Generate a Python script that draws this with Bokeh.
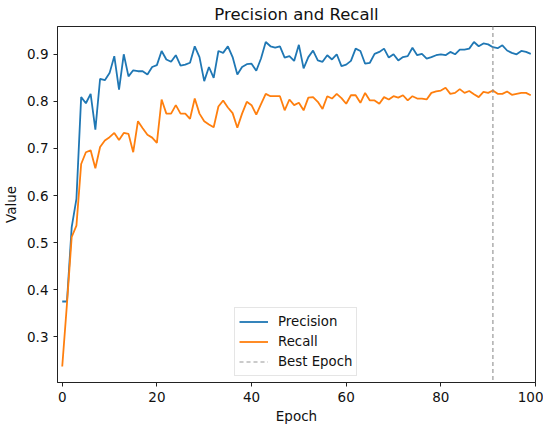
from bokeh.plotting import figure
from bokeh.models import Range1d, Legend, LegendItem, FixedTicker, ColumnDataSource
from bokeh.embed import file_html
from bokeh.resources import INLINE

epochs = list(range(100))
precision = [
    0.375, 0.375, 0.533, 0.593, 0.809, 0.796, 0.816, 0.740, 0.848, 0.845,
    0.860, 0.896, 0.825, 0.900, 0.853, 0.866, 0.864, 0.864, 0.857, 0.873,
    0.877, 0.907, 0.889, 0.884, 0.898, 0.876, 0.878, 0.882, 0.917, 0.894,
    0.843, 0.873, 0.850, 0.907, 0.903, 0.917, 0.894, 0.857, 0.873, 0.879,
    0.880, 0.865, 0.891, 0.926, 0.917, 0.914, 0.917, 0.893, 0.896, 0.886,
    0.920, 0.870, 0.894, 0.908, 0.887, 0.884, 0.898, 0.889, 0.900, 0.875,
    0.878, 0.886, 0.912, 0.907, 0.880, 0.882, 0.901, 0.905, 0.912, 0.893,
    0.900, 0.887, 0.894, 0.896, 0.914, 0.898, 0.901, 0.891, 0.894, 0.898,
    0.900, 0.898, 0.905, 0.900, 0.910, 0.910, 0.912, 0.926, 0.917, 0.923,
    0.921, 0.915, 0.913, 0.919, 0.908, 0.903, 0.900, 0.907, 0.905, 0.901,
]
recall = [
    0.237, 0.370, 0.512, 0.536, 0.667, 0.692, 0.696, 0.658, 0.703, 0.717,
    0.724, 0.733, 0.718, 0.733, 0.731, 0.692, 0.758, 0.743, 0.729, 0.723,
    0.712, 0.804, 0.774, 0.774, 0.792, 0.774, 0.774, 0.763, 0.806, 0.774,
    0.758, 0.751, 0.745, 0.789, 0.802, 0.787, 0.775, 0.744, 0.774, 0.799,
    0.792, 0.772, 0.794, 0.816, 0.811, 0.811, 0.811, 0.781, 0.804, 0.792,
    0.797, 0.781, 0.808, 0.809, 0.799, 0.784, 0.811, 0.806, 0.816, 0.807,
    0.795, 0.813, 0.813, 0.797, 0.818, 0.802, 0.802, 0.795, 0.809, 0.804,
    0.811, 0.808, 0.813, 0.802, 0.811, 0.806, 0.806, 0.804, 0.818, 0.821,
    0.823, 0.829, 0.816, 0.818, 0.826, 0.818, 0.822, 0.815, 0.809, 0.820,
    0.818, 0.823, 0.816, 0.816, 0.821, 0.814, 0.816, 0.818, 0.818, 0.813,
]
best_epoch = 91
x_ticks = [0, 20, 40, 60, 80, 100]
y_ticks = [0.3, 0.4, 0.5, 0.6, 0.7, 0.8, 0.9]

FONT = "DejaVu Sans"

src = ColumnDataSource(dict(epoch=epochs, precision=precision, recall=recall))

p = figure(
    output_backend="svg", toolbar_location=None,
    frame_width=478, frame_height=356,
    min_border_left=48, min_border_right=8, min_border_top=2, min_border_bottom=2,
    x_range=Range1d(-1, 100), y_range=Range1d(0.203, 0.959),
    title="Precision and Recall",
)
p.background_fill_color = "white"
p.border_fill_color = "white"
p.outline_line_color = "#222222"
p.outline_line_width = 1
p.grid.visible = False

p.title.align = "center"
p.title.text_font = FONT
p.title.text_font_size = "16.5px"
p.title.text_font_style = "normal"
p.title.text_color = "#111111"
p.title.standoff = 5

for ax in (p.xaxis[0], p.yaxis[0]):
    ax.axis_line_color = "#222222"
    ax.major_tick_line_color = "#222222"
    ax.major_tick_out = 4
    ax.major_tick_in = 0
    ax.minor_tick_line_color = None
    ax.major_label_text_font = FONT
    ax.major_label_text_font_size = "13.5px"
    ax.major_label_text_color = "#111111"
    ax.axis_label_text_font = FONT
    ax.axis_label_text_font_size = "13.5px"
    ax.axis_label_text_font_style = "normal"
    ax.axis_label_text_color = "#111111"

p.xaxis.axis_label = "Epoch"
p.yaxis.axis_label = "Value"
p.xaxis.ticker = FixedTicker(ticks=x_ticks)
p.yaxis.ticker = FixedTicker(ticks=y_ticks)
p.xaxis.axis_label_standoff = 3
p.yaxis.axis_label_standoff = 5

r_p = p.line("epoch", "precision", source=src, line_color="#1f77b4", line_width=1.8)
r_r = p.line("epoch", "recall", source=src, line_color="#ff7f0e", line_width=1.8)
r_b = p.line([best_epoch, best_epoch], [0.0, 1.2], line_color="#8c8c8c",
             line_width=1.2, line_dash="4 3", line_alpha=0.9)

legend = Legend(
    items=[
        LegendItem(label="Precision", renderers=[r_p]),
        LegendItem(label="Recall", renderers=[r_r]),
        LegendItem(label="Best Epoch", renderers=[r_b]),
    ],
    location=(177, 6),
    label_text_font=FONT,
    label_text_font_size="13.3px",
    label_text_color="#111111",
    glyph_width=29, glyph_height=19, label_height=19,
    label_standoff=10, spacing=1, padding=4, margin=0,
    border_line_color="#cccccc", border_line_width=1,
    background_fill_color="white", background_fill_alpha=0.85,
)
p.add_layout(legend, "center")

open("out.html", "w").write(file_html(p, INLINE))
